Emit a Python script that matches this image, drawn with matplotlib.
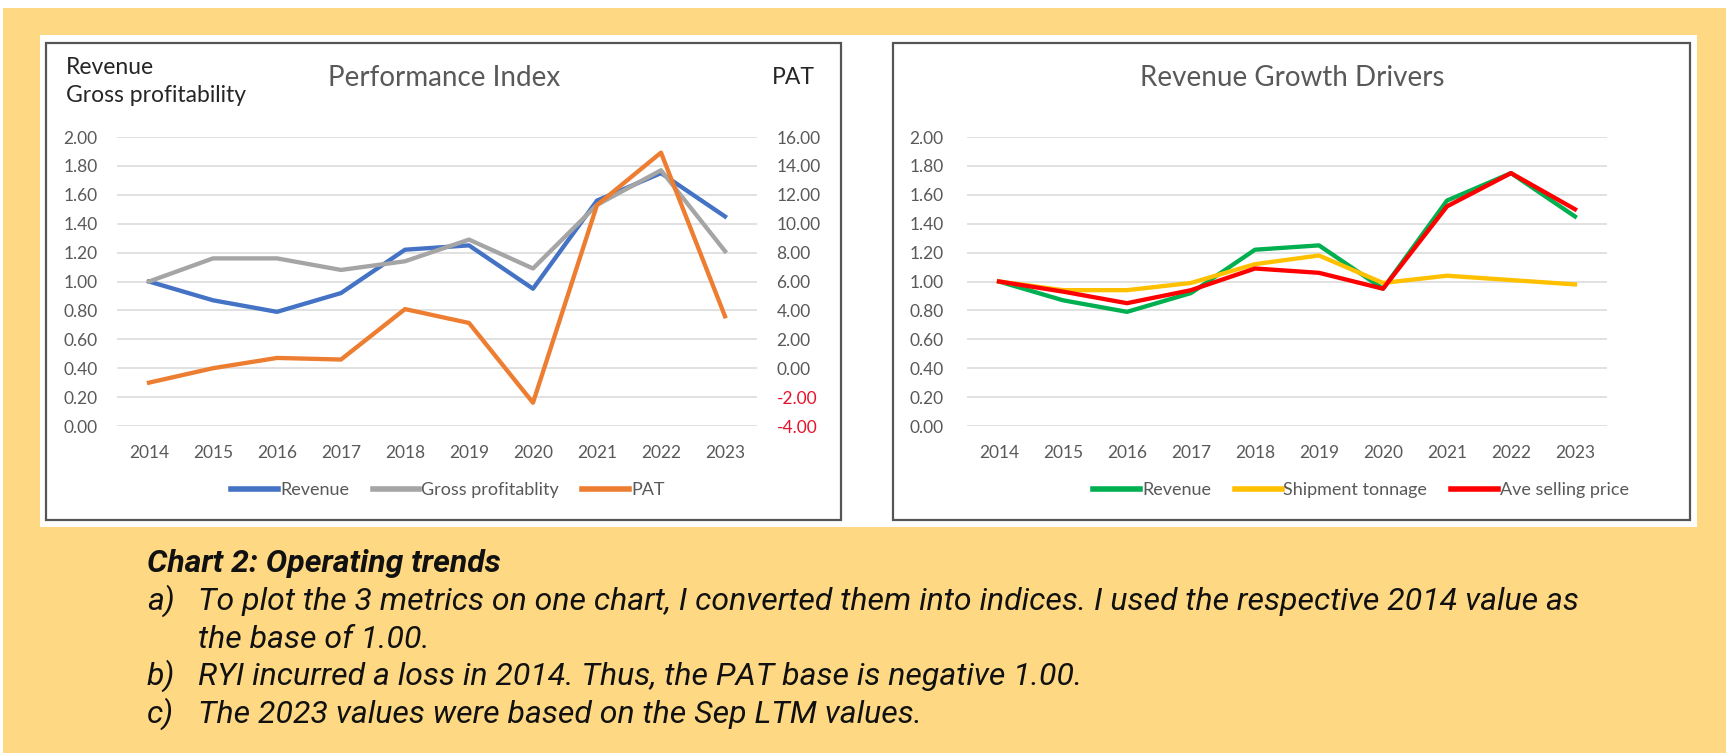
import matplotlib
matplotlib.use("Agg")
import matplotlib.pyplot as plt
from matplotlib.patches import Rectangle
from matplotlib.lines import Line2D

# canvas size in pixels
W, H = 1726, 753

years = ['2014', '2015', '2016', '2017', '2018', '2019', '2020', '2021', '2022', '2023']

# Performance Index
revenue = [1.00, 0.87, 0.79, 0.92, 1.22, 1.25, 0.95, 1.56, 1.75, 1.45]
gross_profitability = [1.00, 1.16, 1.16, 1.08, 1.14, 1.29, 1.09, 1.53, 1.77, 1.21]
pat = [-1.00, 0.00, 0.71, 0.60, 4.09, 3.13, -2.39, 11.29, 14.92, 3.59]

# Revenue Growth Drivers
shipment_tonnage = [1.00, 0.94, 0.94, 0.99, 1.12, 1.18, 0.99, 1.04, 1.01, 0.98]
ave_selling_price = [1.00, 0.93, 0.85, 0.94, 1.09, 1.06, 0.95, 1.52, 1.75, 1.50]

left_ticks = [0.0, 0.2, 0.4, 0.6, 0.8, 1.0, 1.2, 1.4, 1.6, 1.8, 2.0]
pat_ticks = [-4, -2, 0, 2, 4, 6, 8, 10, 12, 14, 16]

caption_title = "Chart 2: Operating trends"
caption_lines = [
    ("a)", "To plot the 3 metrics on one chart, I converted them into indices. I used the respective 2014 value as"),
    ("", "the base of 1.00."),
    ("b)", "RYI incurred a loss in 2014. Thus, the PAT base is negative 1.00."),
    ("c)", "The 2023 values were based on the Sep LTM values."),
]

YELLOW = '#FED882'
GRID = '#D9D9D9'
TXT = '#595959'
C_BLUE, C_GREY, C_ORANGE = '#4472C4', '#A5A5A5', '#ED7D31'
C_GREEN, C_GOLD, C_RED = '#00B050', '#FFC000', '#FF0000'

plt.rcParams['font.family'] = ['Lato', 'DejaVu Sans']

fig = plt.figure(figsize=(W / 100, H / 100), dpi=100)
fig.patch.set_facecolor(YELLOW)


def fx(x):
    return x / W


def fy(y):
    return 1 - y / H


def add_rect(x0, y0, x1, y1, **kw):
    r = Rectangle((fx(x0), fy(y1)), (x1 - x0) / W, (y1 - y0) / H,
                  transform=fig.transFigure, **kw)
    fig.patches.append(r)


# white strips of the screenshot and white card behind the charts (below the axes)
add_rect(0, 0, W, 8, facecolor='white', edgecolor='none', zorder=-2)
add_rect(0, 0, 3, H, facecolor='white', edgecolor='none', zorder=-2)
add_rect(40, 35, 1697, 527, facecolor='white', edgecolor='none', zorder=-2)
# chart borders
add_rect(46, 43, 841, 520, facecolor='none', edgecolor='#555555', lw=1.6, zorder=-1)
add_rect(893, 43, 1690, 520, facecolor='none', edgecolor='#555555', lw=1.6, zorder=-1)


def make_axes(x0, x1):
    ax = fig.add_axes([fx(x0), fy(426), (x1 - x0) / W, (426 - 137) / H])
    ax.set_facecolor('none')
    for s in ax.spines.values():
        s.set_visible(False)
    ax.set_xlim(-0.5, len(years) - 0.5)
    ax.set_ylim(0, 2)
    ax.set_xticks(range(len(years)), years)
    ax.set_yticks(left_ticks, [f'{v:.2f}' for v in left_ticks])
    ax.tick_params(axis='x', length=0, pad=14, labelsize=12.5, labelcolor=TXT)
    ax.tick_params(axis='y', length=0, labelsize=12.5, labelcolor=TXT)
    ax.yaxis.grid(True, color=GRID, lw=1.1)
    ax.set_axisbelow(True)
    return ax


# ---- left chart: Performance Index ----
ax1 = make_axes(117, 757)
ax1.tick_params(axis='y', pad=14)
x = range(len(years))
ax1.plot(x, revenue, color=C_BLUE, lw=3.1, zorder=3)
ax1.plot(x, gross_profitability, color=C_GREY, lw=3.1, zorder=4)

ax2 = ax1.twinx()
for s in ax2.spines.values():
    s.set_visible(False)
ax2.set_ylim(-4, 16)
ax2.set_yticks(pat_ticks, [f'{v:.2f}' for v in pat_ticks])
ax2.tick_params(axis='y', length=0, pad=14, labelsize=12.5, labelcolor=TXT)
for lbl, v in zip(ax2.get_yticklabels(), pat_ticks):
    if v < 0:
        lbl.set_color('#E5142C')
ax2.plot(x, pat, color=C_ORANGE, lw=3.1, zorder=5)

fig.text(fx(444), fy(78), 'Performance Index', ha='center', va='center', fontsize=20, color=TXT)
fig.text(fx(793), fy(78), 'PAT', ha='center', va='center', fontsize=16.5, color='#262626')
fig.text(fx(66), fy(68), 'Revenue', ha='left', va='center', fontsize=16.5, color='#262626')
fig.text(fx(66), fy(96), 'Gross profitability', ha='left', va='center', fontsize=16.5, color='#262626')

h1 = [Line2D([], [], color=C_BLUE, lw=4),
      Line2D([], [], color=C_GREY, lw=4),
      Line2D([], [], color=C_ORANGE, lw=4)]
fig.legend(h1, ['Revenue', 'Gross profitablity', 'PAT'], loc='center',
           bbox_to_anchor=(fx(448), fy(490)), ncol=3, frameon=False, fontsize=13,
           handlelength=2.6, handletextpad=0.1, columnspacing=1.3, labelcolor=TXT)

# ---- right chart: Revenue Growth Drivers ----
ax3 = make_axes(967, 1607)
ax3.tick_params(axis='y', pad=17)
ax3.plot(x, revenue, color=C_GREEN, lw=3.1, zorder=3)
ax3.plot(x, shipment_tonnage, color=C_GOLD, lw=3.1, zorder=4)
ax3.plot(x, ave_selling_price, color=C_RED, lw=3.1, zorder=5)

fig.text(fx(1292), fy(78), 'Revenue Growth Drivers', ha='center', va='center', fontsize=20, color=TXT)

h2 = [Line2D([], [], color=C_GREEN, lw=4),
      Line2D([], [], color=C_GOLD, lw=4),
      Line2D([], [], color=C_RED, lw=4)]
fig.legend(h2, ['Revenue', 'Shipment tonnage', 'Ave selling price'], loc='center',
           bbox_to_anchor=(fx(1361), fy(490)), ncol=3, frameon=False, fontsize=13,
           handlelength=2.6, handletextpad=0.1, columnspacing=1.3, labelcolor=TXT)

# ---- caption ----
fig.text(fx(147), fy(572), caption_title, ha='left', va='baseline', fontsize=23,
         family='Roboto', style='italic', weight='bold', color='#111111')
baselines = [610, 648, 685, 723]
for (tag, line), yb in zip(caption_lines, baselines):
    if tag:
        fig.text(fx(147), fy(yb), tag, ha='left', va='baseline', fontsize=23,
                 family='Roboto', style='italic', color='#111111')
    fig.text(fx(198), fy(yb), line, ha='left', va='baseline', fontsize=23,
             family='Roboto', style='italic', color='#111111')

fig.savefig('out.png', dpi=100, facecolor=fig.get_facecolor())
